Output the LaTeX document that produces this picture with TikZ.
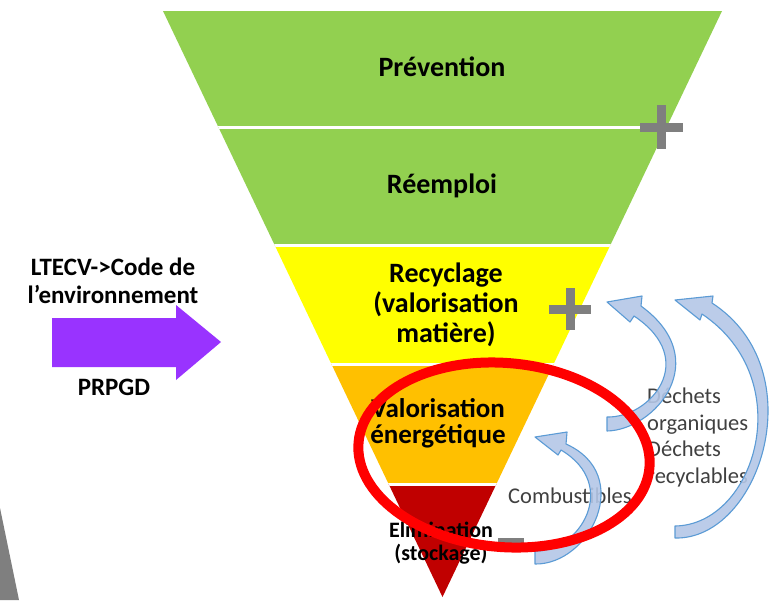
\documentclass[tikz,border=0pt]{standalone}
\usepackage{fontspec}
\setmainfont{Carlito}
\definecolor{gA}{RGB}{146,208,80}
\definecolor{yA}{RGB}{255,255,0}
\definecolor{oA}{RGB}{255,192,0}
\definecolor{rA}{RGB}{192,0,0}
\definecolor{pA}{RGB}{153,51,255}
\definecolor{grA}{RGB}{127,127,127}
\definecolor{bfill}{RGB}{180,199,231}
\definecolor{bline}{RGB}{91,155,213}
\definecolor{txtg}{RGB}{64,64,64}
\begin{document}
\begin{tikzpicture}[x=1pt,y=-1pt,
  lvl/.style={font=\fontsize{28}{30}\selectfont\bfseries, align=center, anchor=base, inner sep=0pt},
  lvls/.style={font=\fontsize{22}{23}\selectfont\bfseries, align=center, anchor=base, inner sep=0pt},
  side/.style={font=\fontsize{25}{28}\selectfont\bfseries, align=center, anchor=base, inner sep=0pt},
  note/.style={font=\fontsize{22.5}{26.5}\selectfont, text=txtg, anchor=base west, align=left, inner sep=0pt},
  sign/.style={grA, line width=9pt},
  barrow/.style={fill=bfill, fill opacity=0.9, draw=bline, line width=1.1pt, line join=round}]
\useasboundingbox (0,0) rectangle (775,600);
\fill[white] (0,0) rectangle (775,600);
% triangle bands
\coordinate (tA) at (163,11);
\coordinate (tB) at (722,11);
\coordinate (tC) at (442.5,597);
\begin{scope}
\clip (tA) -- (tB) -- (tC) -- cycle;
\fill[gA] (150,0) rectangle (740,245);
\fill[yA] (150,245) rectangle (740,364);
\fill[oA] (150,364) rectangle (740,484);
\fill[rA] (150,484) rectangle (740,600);
\draw[white, line width=3pt] (150,127) -- (740,127);
\draw[white, line width=3pt] (150,245) -- (740,245);
\draw[white, line width=3pt] (150,364) -- (740,364);
\draw[white, line width=3pt] (150,484) -- (740,484);
\end{scope}
% level labels (anchor = baseline of last line)
\node[lvl] (prev) at (442,76) {Prévention};
\node[lvl] (reem) at (442,193) {Réemploi};
\node[lvl] (recy) at (446,342) {Recyclage\\(valorisation\\matière)};
\node[lvl,font=\fontsize{27}{26}\selectfont\bfseries] (valo) at (438,443) {Valorisation\\énergétique};
\node[lvls] (elim) at (441,560) {Elimination\\(stockage)};
% plus / minus signs
\draw[sign] (640,127.5) -- (683,127.5);
\draw[sign] (661.5,105) -- (661.5,149);
\draw[sign] (549,309) -- (591,309);
\draw[sign] (570,288) -- (570,330);
\draw[sign, line width=7pt] (498,541) -- (524,541);
% left arrow and texts
\node[side] (ltecv) at (113,303) {LTECV->Code de\\l’environnement};
\fill[pA] (52,318) -- (176,318) -- (176,305) -- (221,342) -- (176,380) -- (176,367) -- (52,367) -- cycle;
\node[side] (prp) at (114,395) {PRPGD};
% grey corner shape
\fill[grA] (0,508) -- (19,600) -- (0,600) -- cycle;
% side notes
\node[note] (dech) at (647,483) {Déchets\\organiques\\Déchets\\recyclables};
\node[note] (comb) at (508,503) {Combustibles};
% blue curved arrows
\draw[barrow] (607,417) -- (607,431) .. controls (655,430) and (715,360) .. (641,306)
  -- (642,296) -- (607,302) -- (630,322) -- (634,316)
  .. controls (700,360) and (650,418) .. (607,417) -- cycle;
\draw[barrow] (675,526) -- (675,538) .. controls (760,540) and (815,370) .. (712,303)
  -- (713,296) -- (675,300) -- (700,320) -- (702,314)
  .. controls (800,380) and (755,525) .. (675,526) -- cycle;
\draw[barrow] (535,551) -- (535,564) .. controls (590,565) and (635,475) .. (566,444)
  -- (567,432) -- (535,437) -- (558,455) -- (561,450)
  .. controls (620,485) and (580,552) .. (535,551) -- cycle;
% red ellipse
\draw[red, line width=10pt] (504,455) ellipse [x radius=146, y radius=92, rotate=-5];
\end{tikzpicture}
\end{document}
